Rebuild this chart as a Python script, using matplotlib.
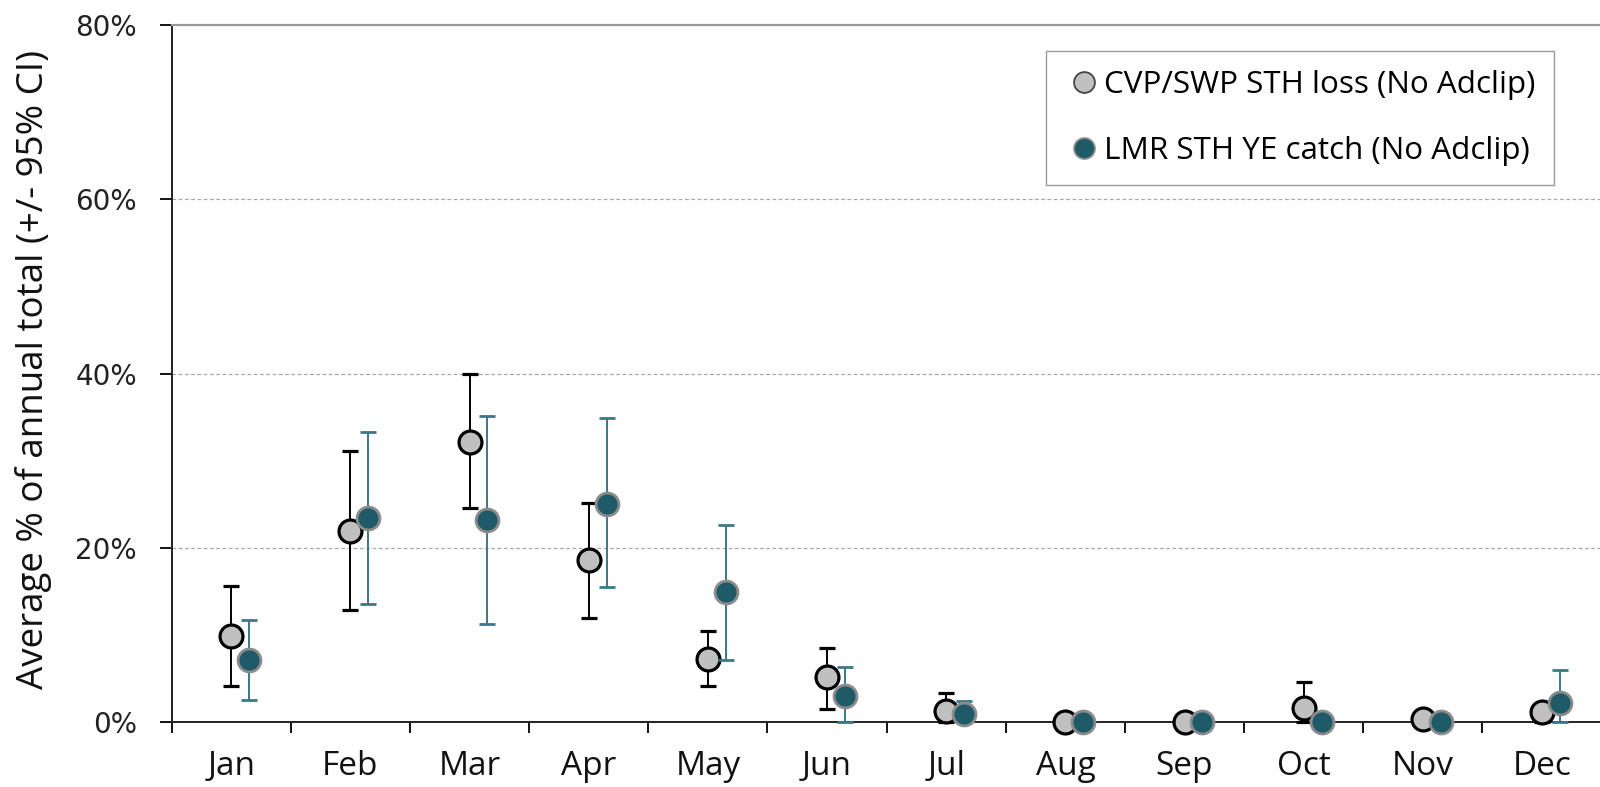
import numpy as np
import matplotlib
matplotlib.use("Agg")
import matplotlib.pyplot as plt
from matplotlib.lines import Line2D
from matplotlib.ticker import FuncFormatter, FixedLocator

months = ["Jan", "Feb", "Mar", "Apr", "May", "Jun", "Jul", "Aug", "Sep", "Oct", "Nov", "Dec"]

# CVP/SWP salvage loss: mean and 95% CI bounds (% of annual total)
loss_mean = [9.9, 21.9, 32.2, 18.6, 7.3, 5.2, 1.35, 0.0, 0.0, 1.6, 0.4, 1.15]
loss_low = [4.2, 12.9, 24.6, 12.0, 4.2, 1.5, 0.0, 0.0, 0.0, 0.0, 0.0, 0.0]
loss_high = [15.6, 31.1, 40.0, 25.2, 10.5, 8.5, 3.35, 0.0, 0.0, 4.6, 0.4, 1.15]

# LMR YE catch: mean and 95% CI bounds
catch_mean = [7.1, 23.4, 23.2, 25.1, 14.9, 3.0, 0.97, 0.0, 0.0, 0.0, 0.0, 2.25]
catch_low = [2.6, 13.6, 11.3, 15.5, 7.2, 0.0, 0.0, 0.0, 0.0, 0.0, 0.0, 0.0]
catch_high = [11.7, 33.3, 35.1, 34.9, 22.6, 6.3, 2.4, 0.0, 0.0, 0.0, 0.0, 5.95]

loss_label = "CVP/SWP STH loss (No Adclip)"
catch_label = "LMR STH YE catch (No Adclip)"

loss_mean, loss_low, loss_high = map(np.array, (loss_mean, loss_low, loss_high))
catch_mean, catch_low, catch_high = map(np.array, (catch_mean, catch_low, catch_high))

font = "Open Sans"
fig = plt.figure(figsize=(16, 7.87), dpi=100)
ax = fig.add_axes([0.1073, 0.0822, 0.8937, 0.886])

x = np.arange(len(months))
shift = 0.15

ax.errorbar(x, loss_mean, yerr=[loss_mean - loss_low, loss_high - loss_mean],
            fmt="o", ms=16.5, mfc="#C0C0C0", mec="black", mew=2.3,
            ecolor="black", elinewidth=1.4, capsize=6, capthick=1.4,
            zorder=3, clip_on=False)
ax.errorbar(x + shift, catch_mean, yerr=[catch_mean - catch_low, catch_high - catch_mean],
            fmt="o", ms=16.5, mfc="#1F5A69", mec="#8C8C8C", mew=2.0,
            ecolor="#3C7887", elinewidth=1.4, capsize=6, capthick=1.4,
            zorder=4, clip_on=False)

ax.set_xlim(-0.5, len(months) - 0.5)
ax.set_ylim(0, 80)

# y axis
ax.set_yticks([0, 20, 40, 60, 80])
ax.yaxis.set_major_formatter(FuncFormatter(lambda v, p: f"{v:.0f}%"))
ax.tick_params(axis="y", direction="out", length=9, width=1.3, pad=16,
               labelsize=20, labelcolor="#222222")
for lab in ax.get_yticklabels():
    lab.set_family("DejaVu Sans")
for v in (20, 40, 60):
    ax.axhline(v, color="#A8A8A8", lw=0.9, ls=(0, (3, 2)), zorder=1)

# x axis: labels at month centres, tick marks at boundaries
ax.xaxis.set_major_locator(FixedLocator(x))
ax.set_xticklabels(months, family=font, fontsize=24, color="#111111")
ax.xaxis.set_minor_locator(FixedLocator(np.arange(-0.5, len(months), 1.0)))
ax.tick_params(axis="x", which="major", length=0, pad=20)
ax.tick_params(axis="x", which="minor", direction="out", length=8, width=1.3)

for side in ("left", "bottom"):
    ax.spines[side].set_linewidth(1.4)
    ax.spines[side].set_color("#222222")
ax.spines["right"].set_visible(False)
ax.spines["top"].set_color("#9A9A9A")
ax.spines["top"].set_linewidth(1.6)

fig.text(0.021, 0.53, "Average % of annual total (+/- 95% CI)", rotation=90,
         ha="center", va="center", family=font, fontsize=26.5, color="#111111")

handles = [
    Line2D([], [], ls="none", marker="o", ms=15, mfc="#C0C0C0", mec="#444444", mew=1.3),
    Line2D([], [], ls="none", marker="o", ms=15, mfc="#1F5A69", mec="#8C8C8C", mew=1.3),
]
leg = ax.legend(handles, [loss_label, catch_label], loc="upper right",
                bbox_to_anchor=(0.967, 0.963), borderaxespad=0,
                prop={"family": font, "size": 22.6}, frameon=True, fancybox=False,
                edgecolor="#808080", handletextpad=0.05, handlelength=1.2,
                labelspacing=1.15, borderpad=0.6)
leg.get_frame().set_linewidth(1.0)

fig.savefig("out.png", dpi=100)
